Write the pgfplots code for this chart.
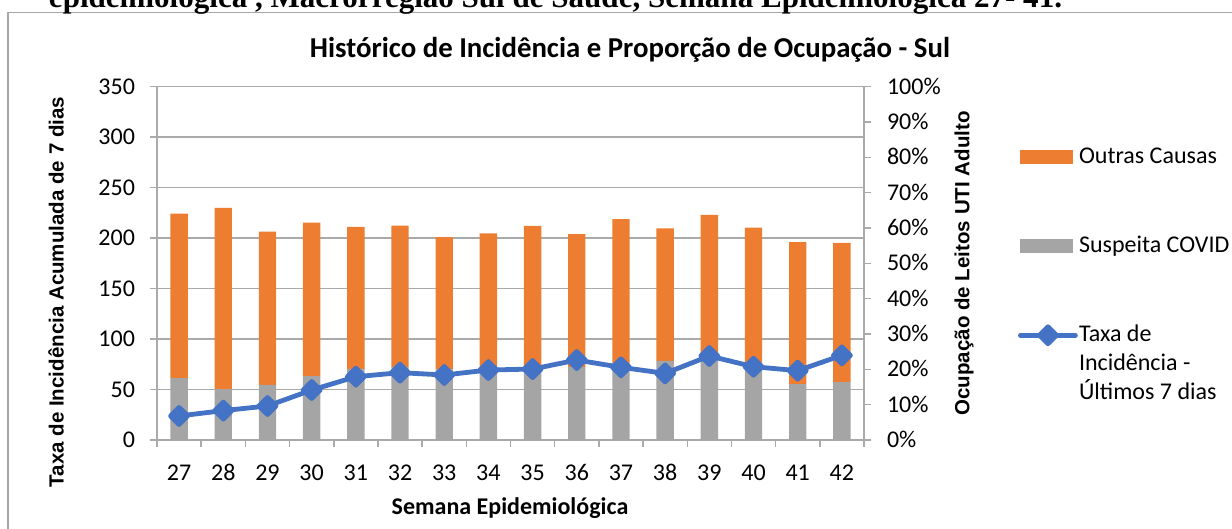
\documentclass[border=0pt]{standalone}
\usepackage{fontspec}
\setmainfont{Carlito}
\newfontfamily\arialfont{Liberation Sans}
\newfontfamily\capfont{Liberation Serif}
\usepackage{graphicx}
\usepackage{pgfplots}
\pgfplotsset{compat=1.18}
\usepackage{pgfplotstable}

\definecolor{outras}{HTML}{ED7D31}
\definecolor{covid}{HTML}{A5A5A5}
\definecolor{taxa}{HTML}{4472C4}
\definecolor{grade}{HTML}{AAAAAA}
\definecolor{moldura}{HTML}{A6A6A6}

% semana, ocupacao suspeita COVID (%), outras causas (%), taxa de incidencia
\pgfplotstableread{
sem covid outras taxa
27 17.5 46.6 23.8
28 14.4 51.3 29.1
29 15.6 43.4 33.7
30 18.1 43.4 49.5
31 20.1 40.2 62.7
32 20.6 40.1 66.7
33 20.0 37.4 64.4
34 20.3 38.2 69.3
35 20.8 39.8 70.3
36 20.7 37.6 79.2
37 21.0 41.5 72.0
38 22.4 37.5 66.0
39 23.4 40.3 83.2
40 20.5 39.6 72.6
41 15.8 40.2 68.7
42 16.4 39.4 83.9
}\dados

\pgfplotsset{
  /pgf/number format/assume math mode=true,
  base/.style={scale only axis, width=353.5bp, height=176.65bp,
    at={(78.5bp,44.5bp)}, anchor=south west, xmin=26.5, xmax=42.5},
  eixo/.style={axis line style={grade, line width=0.75bp, -},
    tick style={grade, line width=0.75bp}, tick align=outside,
    major tick length=3.5bp,
    ticklabel style={font=\fontsize{12bp}{14bp}\selectfont,
      text height=7.6bp, text depth=0bp}},
}

\begin{document}
\begin{tikzpicture}
\useasboundingbox (0,0) rectangle (616bp,264.5bp);
\draw[moldura, line width=0.75bp] (4bp,-5bp) -- (4bp,258.25bp) -- (625bp,258.25bp);
\node[anchor=base, inner sep=0pt] at (277.75bp,260.8bp)
  {\resizebox{506.5bp}{!}{\capfont\bfseries epidemiológica , Macrorregião Sul de Saúde, Semana Epidemiológica 27- 41.}};
\node[anchor=base, inner sep=0pt, font=\fontsize{14.4bp}{17bp}\selectfont\bfseries]
  at (315bp,235.5bp) {Histórico de Incidência e Proporção de Ocupação - Sul};

% eixo esquerdo, grade e eixo x
\begin{axis}[base, eixo,
  ymin=0, ymax=350, ytick={0,50,...,350},
  ymajorgrids, grid style={grade, line width=0.75bp},
  axis x line*=bottom, axis y line*=left,
  yticklabel style={xshift=-4bp},
  xtick={26.5,27.5,...,42.5}, x tick label as interval,
  xticklabels={27,28,29,30,31,32,33,34,35,36,37,38,39,40,41,42},
  xticklabel style={yshift=-5.5bp},
  xlabel={Semana Epidemiológica},
  xlabel style={at={(axis description cs:0.4993,-0.21)}, anchor=base,
    font=\fontsize{12bp}{14bp}\selectfont\bfseries},
  ylabel={Taxa de Incidência Acumulada de 7 dias},
  ylabel style={at={(axis description cs:-0.1429,0.4189)}, anchor=center,
    font=\fontsize{10.25bp}{12bp}\selectfont\arialfont\bfseries},
]
\addplot[draw=none] table[x=sem, y=taxa] {\dados};
\end{axis}

% barras: ocupacao de leitos (eixo direito)
\begin{axis}[base, eixo,
  ymin=0, ymax=100, ytick={0,10,...,100},
  yticklabel={\pgfmathprintnumber{\tick}\%},
  yticklabel style={xshift=4.5bp},
  axis x line=none, axis y line*=right,
  ybar stacked, bar width=8.7bp,
  ylabel={Ocupação de Leitos UTI Adulto},
  ylabel style={at={(axis description cs:1.1414,0.4999)}, anchor=center,
    font=\fontsize{10.25bp}{12bp}\selectfont\arialfont\bfseries},
]
\addplot[fill=covid, draw=none] table[x=sem, y=covid] {\dados};
\addplot[fill=outras, draw=none] table[x=sem, y=outras] {\dados};
\end{axis}

% linha: taxa de incidencia (eixo esquerdo)
\begin{axis}[base, ymin=0, ymax=350, hide axis,
  legend style={at={(axis description cs:1.2173,0.8406)}, anchor=north west,
    draw=none, fill=none, inner sep=0pt, row sep=33bp, column sep=0.6bp,
    nodes={inner sep=0pt}, cells={anchor=base west},
    font=\fontsize{12bp}{14.35bp}\selectfont},
]
\addlegendimage{legend image code/.code={\fill[outras] (0bp,-0.1bp) rectangle (26bp,6.4bp);}}
\addlegendentry{Outras Causas\strut}
\addlegendimage{legend image code/.code={\fill[covid] (0bp,-0.1bp) rectangle (26bp,6.4bp);}}
\addlegendentry{Suspeita COVID\strut}
\addplot[taxa, line width=2.4bp, line join=round, line cap=round,
  mark=square*, mark size=3bp, mark options={rotate=45, solid},
  legend image code/.code={\draw[taxa, line width=2.4bp, line cap=round,
    mark=square*, mark size=3bp, mark options={rotate=45, solid},
    mark repeat=2, mark phase=2]
    plot coordinates {(0bp,3.2bp) (13.75bp,3.2bp) (27.5bp,3.2bp)};}]
  table[x=sem, y=taxa] {\dados};
\addlegendentry{\begin{tabular}[t]{@{}l@{}}Taxa de\\Incidência -\\Últimos 7 dias\end{tabular}}
\end{axis}
\end{tikzpicture}
\end{document}
